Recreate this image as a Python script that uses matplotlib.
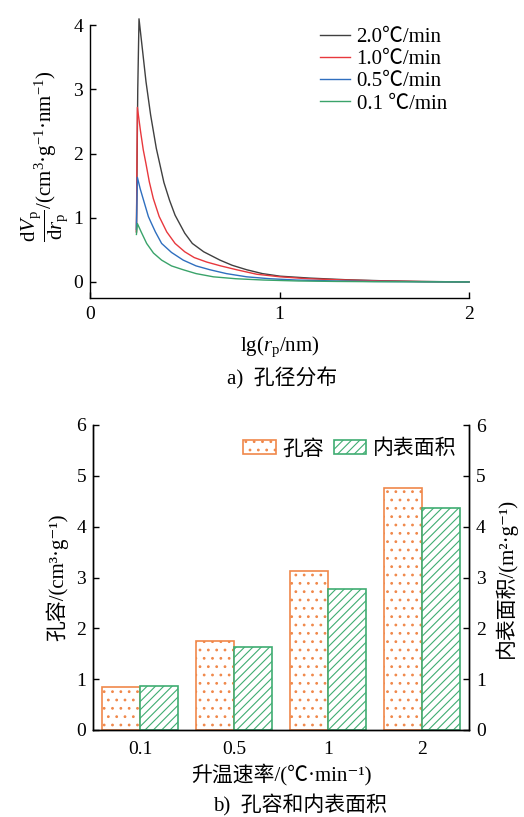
import matplotlib
matplotlib.use("Agg")
import matplotlib.pyplot as plt
import numpy as np

# pore size distribution
lg_black = [0.245, 0.252, 0.2586, 0.276, 0.2955, 0.320, 0.350, 0.390, 0.420, 0.449, 0.50, 0.54, 0.60, 0.686, 0.75, 0.827, 0.91, 1.003, 1.161, 1.35, 1.55, 1.75, 2.0]
v_black = [0.78, 3.00, 4.10, 3.64, 3.12, 2.60, 2.08, 1.55, 1.27, 1.04, 0.76, 0.60, 0.47, 0.34, 0.26, 0.19, 0.13, 0.09, 0.06, 0.035, 0.018, 0.008, 0.0]

lg_red = [0.245, 0.250, 0.267, 0.281, 0.2955, 0.313, 0.334, 0.365, 0.405, 0.449, 0.50, 0.55, 0.616, 0.69, 0.774, 0.88, 1.003, 1.15, 1.35, 1.55, 1.75, 2.0]
v_red = [0.78, 2.72, 2.34, 2.06, 1.84, 1.56, 1.30, 1.02, 0.78, 0.60, 0.47, 0.38, 0.31, 0.25, 0.19, 0.12, 0.08, 0.05, 0.03, 0.015, 0.006, 0.0]

lg_blue = [0.245, 0.250, 0.265, 0.281, 0.308, 0.320, 0.345, 0.378, 0.43, 0.492, 0.56, 0.633, 0.72, 0.827, 0.95, 1.09, 1.3, 1.5, 1.75, 2.0]
v_blue = [0.82, 1.63, 1.45, 1.29, 1.02, 0.94, 0.78, 0.60, 0.46, 0.34, 0.25, 0.19, 0.13, 0.08, 0.05, 0.03, 0.015, 0.008, 0.003, 0.0]

lg_green = [0.245, 0.250, 0.27, 0.299, 0.335, 0.378, 0.43, 0.492, 0.56, 0.651, 0.77, 0.915, 1.1, 1.3, 1.5, 1.75, 2.0]
v_green = [0.74, 0.91, 0.78, 0.60, 0.45, 0.34, 0.25, 0.19, 0.13, 0.08, 0.05, 0.03, 0.015, 0.008, 0.004, 0.002, 0.0]

curve_labels = ["2.0℃/min", "1.0℃/min", "0.5℃/min", "0.1 ℃/min"]
curve_colors = ["#404040", "#e8383d", "#2f6fbf", "#3aa36a"]

# pore volume and inner surface area
rates = ["0.1", "0.5", "1", "2"]
pore_volume = [0.85, 1.76, 3.12, 4.77]
surface_area = [0.87, 1.63, 2.78, 4.37]

SERIF = ["Liberation Serif", "Noto Sans CJK SC", "DejaVu Sans"]
plt.rcParams["font.family"] = SERIF
plt.rcParams["mathtext.fontset"] = "custom"
plt.rcParams["mathtext.rm"] = "Liberation Serif"
plt.rcParams["mathtext.it"] = "Liberation Serif:italic"
plt.rcParams["mathtext.bf"] = "Liberation Serif:bold"
plt.rcParams["font.size"] = 14
plt.rcParams["axes.linewidth"] = 1.0
plt.rcParams["xtick.direction"] = "in"
plt.rcParams["ytick.direction"] = "in"
plt.rcParams["xtick.major.size"] = 4.3
plt.rcParams["ytick.major.size"] = 4.3
plt.rcParams["xtick.major.width"] = 1.0
plt.rcParams["ytick.major.width"] = 1.0
plt.rcParams["hatch.linewidth"] = 0.8

fig = plt.figure(figsize=(5.24, 8.17), dpi=100)

# ---- a) pore size distribution
ax1 = fig.add_axes([90 / 524, 1 - 298 / 817, 379 / 524, 282.4 / 817])
series = [(lg_black, v_black), (lg_red, v_red), (lg_blue, v_blue), (lg_green, v_green)]
for (xs, ys), lab, col in zip(series, curve_labels, curve_colors):
    ax1.plot(xs, ys, color=col, lw=1.0, label=lab, clip_on=False)
ax1.set_xlim(0, 2)
ax1.set_ylim(-0.25, 4.15)
ax1.spines["top"].set_visible(False)
ax1.spines["right"].set_visible(False)
ax1.spines["left"].set_bounds(-0.25, 4)
ax1.set_xticks([0, 1, 2])
ax1.set_yticks([0, 1, 2, 3, 4])
ax1.tick_params(axis="x", pad=6)
ax1.tick_params(axis="y", pad=5)
ax1.set_xlabel(r"lg($\mathit{r}_\mathrm{p}$/nm)", labelpad=8, fontsize=15)
ax1.set_ylabel(r"$\dfrac{\mathrm{d}\mathit{V}_\mathrm{p}}{\mathrm{d}\mathbf{\mathit{r}}_\mathrm{p}}$/(cm$^{3}$·g$^{-1}$·nm$^{-1}$)",
               labelpad=2, fontsize=15)
ax1.legend(loc="upper left", bbox_to_anchor=(0.607, 0.957), frameon=False, fontsize=15,
           handlelength=1.45, handletextpad=0.3, labelspacing=0.12, borderaxespad=0, borderpad=0)
fig.text(282 / 524, 1 - 378 / 817, "a)  孔径分布", ha="center", va="center", fontsize=15)

# ---- b) pore volume / inner surface area
ax2 = fig.add_axes([93 / 524, 1 - 730 / 817, 376 / 524, 305 / 817])
x = np.arange(len(rates))
w = 0.4
ax2.bar(x - w / 2, pore_volume, w, facecolor="white", edgecolor="#f0884a",
        hatch="..", lw=1.2, label="孔容")
ax2.bar(x + w / 2, surface_area, w, facecolor="white", edgecolor="#3fad72",
        hatch="////", lw=1.2, label="内表面积")
ax2.set_xlim(-0.5, 3.5)
ax2.set_ylim(0, 6)
ax2.set_xticks(x)
ax2.set_xticklabels(rates)
ax2.tick_params(axis="x", length=0, pad=8)
ax2.tick_params(axis="y", pad=5)
ax2.set_yticks(range(7))
ax2.spines["top"].set_visible(False)
ax2.set_ylabel("孔容/(cm³·g⁻¹)", labelpad=6, fontsize=15)
ax2.set_xlabel("升温速率/(℃·min⁻¹)", labelpad=4, fontsize=15)

ax3 = ax2.twinx()
ax3.set_ylim(0, 6)
ax3.set_yticks(range(7))
ax3.spines["top"].set_visible(False)
ax3.tick_params(axis="y", direction="in", pad=5)
ax3.set_ylabel("内表面积/(m²·g⁻¹)", rotation=90, labelpad=6, fontsize=15)

ax2.legend(loc="upper left", bbox_to_anchor=(0.40, 0.952), ncol=2, frameon=False,
           fontsize=15, handlelength=1.55, handleheight=0.7,
           handletextpad=0.3, columnspacing=0.5, borderaxespad=0, borderpad=0)
fig.text(300 / 524, 1 - 805 / 817, "b)  孔容和内表面积", ha="center", va="center", fontsize=15)

fig.savefig("out.png", dpi=100)
